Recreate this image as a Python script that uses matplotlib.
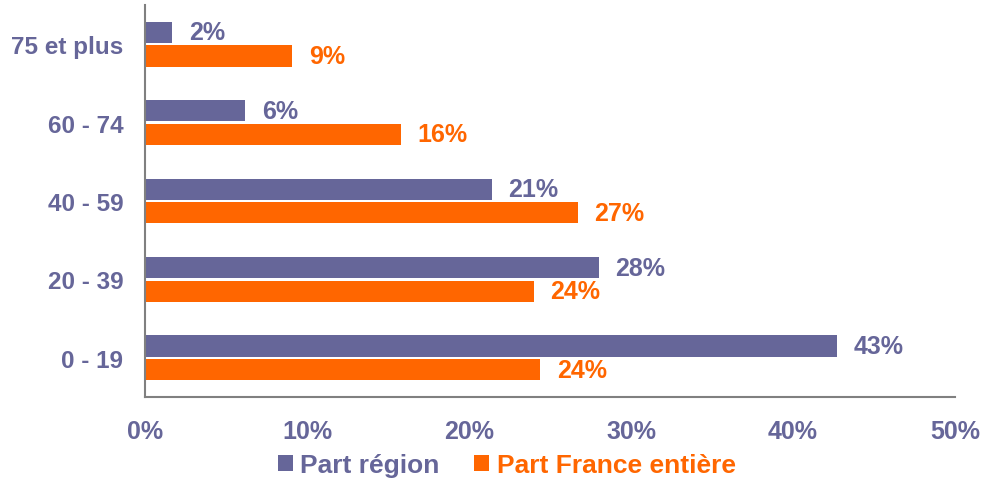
import numpy as np
import matplotlib.pyplot as plt
from matplotlib.ticker import FuncFormatter

categories = ["0 - 19", "20 - 39", "40 - 59", "60 - 74", "75 et plus"]
part_region = [42.7, 28.0, 21.4, 6.2, 1.7]
part_france = [24.4, 24.0, 26.7, 15.8, 9.1]
labels_region = ["43%", "28%", "21%", "6%", "2%"]
labels_france = ["24%", "24%", "27%", "16%", "9%"]

c_region = "#666699"
c_france = "#FF6600"

plt.rcParams['font.family'] = ['Liberation Sans', 'DejaVu Sans']
plt.rcParams['font.weight'] = 'bold'

fig = plt.figure(figsize=(9.86, 4.81), dpi=100)
ax = fig.add_axes([0.147, 0.1726, 0.8216, 0.815])

y = np.arange(len(categories))
h = 0.27
ax.barh(y + h / 2 + 0.015, part_region, height=h, color=c_region, label="Part région")
ax.barh(y - h / 2 - 0.015, part_france, height=h, color=c_france, label="Part France entière")

for i in range(len(categories)):
    ax.annotate(labels_region[i], (part_region[i], y[i] + h / 2 + 0.015), xytext=(12, 0),
                textcoords="offset points", va="center", ha="left",
                color=c_region, fontsize=18, fontweight="bold")
    ax.annotate(labels_france[i], (part_france[i], y[i] - h / 2 - 0.015), xytext=(12, 0),
                textcoords="offset points", va="center", ha="left",
                color=c_france, fontsize=18, fontweight="bold")

ax.set_xlim(0, 50)
ax.set_ylim(-0.5, len(categories) - 0.5)
ax.set_xticks(np.arange(0, 51, 10))
ax.xaxis.set_major_formatter(FuncFormatter(lambda v, p: "{:.0f}%".format(v)))
ax.set_yticks(y)
ax.set_yticklabels(categories)
ax.tick_params(axis="x", length=0, labelsize=18, labelcolor=c_region, pad=15.5)
ax.tick_params(axis="y", length=0, labelsize=17.5, labelcolor=c_region, pad=15.5)

for s in ["top", "right"]:
    ax.spines[s].set_visible(False)
for s in ["left", "bottom"]:
    ax.spines[s].set_color("#808080")
    ax.spines[s].set_linewidth(1.5)

leg = fig.legend(loc="center", bbox_to_anchor=(0.514, 0.031), ncol=2, frameon=False,
                 fontsize=19, handlelength=0.55, handleheight=0.55, handletextpad=0.3,
                 columnspacing=1.3)
for txt, col in zip(leg.get_texts(), [c_region, c_france]):
    txt.set_color(col)

fig.savefig("out.png", dpi=100)
